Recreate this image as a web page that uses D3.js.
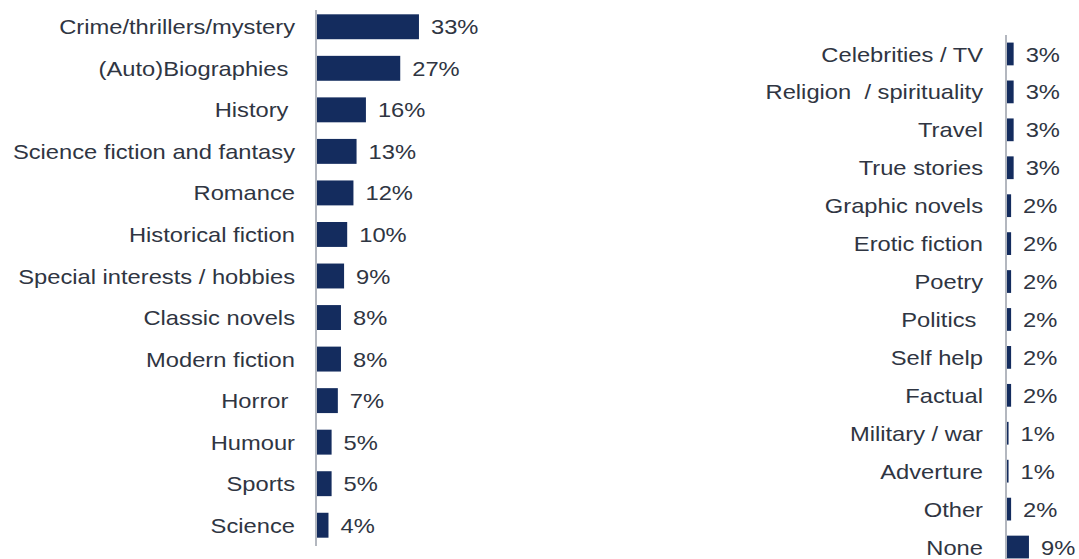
<!DOCTYPE html>
<html>
<head>
<meta charset="utf-8">
<script src="https://cdn.jsdelivr.net/npm/d3@7"></script>
<style>
  body { margin: 0; background: #fff; }
  svg { display: block; }
  text { font-family: Arial, "Liberation Sans", Helvetica, sans-serif; fill: #2f3542; white-space: pre; }
</style>
</head>
<body>
<svg width="1079" height="559"></svg>
<script>
const leftGenres = ["Crime/thrillers/mystery", "(Auto)Biographies ", "History ", "Science fiction and fantasy",
  "Romance", "Historical fiction", "Special interests / hobbies", "Classic novels", "Modern fiction",
  "Horror ", "Humour", "Sports", "Science"];
const leftValues = [33, 27, 16, 13, 12, 10, 9, 8, 8, 7, 5, 5, 4];

const rightGenres = ["Celebrities / TV", "Religion  / spirituality", "Travel", "True stories", "Graphic novels",
  "Erotic fiction", "Poetry", "Politics ", "Self help", "Factual", "Military / war", "Adverture", "Other", "None"];
const rightValues = [3, 3, 3, 3, 2, 2, 2, 2, 2, 2, 1, 1, 2, 9];

const BAR = "#142c5e";
const FONT = 21, STRETCH = 1.13;

const svg = d3.select("svg");

function panel(cats, vals, o) {
  const y = d3.scaleBand().domain(cats).range(o.yRange).paddingInner(0.4).paddingOuter(0.2);
  const x = d3.scaleLinear().domain([0, 100]).range([o.axisX, o.axisX + o.pxPer100]);
  const g = svg.append("g");

  g.append("line")
    .attr("x1", o.axisX).attr("x2", o.axisX)
    .attr("y1", o.axisTop).attr("y2", o.axisBottom)
    .attr("stroke", "#b3b7bf").attr("stroke-width", 2);

  g.selectAll("rect").data(vals).enter().append("rect")
    .attr("x", o.axisX + 1)
    .attr("y", (d, i) => y(cats[i]))
    .attr("width", d => x(d) - o.axisX - 1)
    .attr("height", y.bandwidth())
    .attr("fill", BAR);

  g.selectAll("text.cat").data(cats).enter().append("text")
    .attr("class", "cat")
    .attr("transform", d => `translate(${o.labelRight},${y(d) + y.bandwidth() / 2}) scale(${STRETCH},1)`)
    .attr("text-anchor", "end")
    .attr("dy", "0.36em")
    .style("font-size", FONT + "px")
    .text(d => d);

  g.selectAll("text.val").data(vals).enter().append("text")
    .attr("class", "val")
    .attr("transform", (d, i) => `translate(${x(d) + 12},${y(cats[i]) + y.bandwidth() / 2}) scale(${STRETCH},1)`)
    .attr("dy", "0.36em")
    .style("font-size", FONT + "px")
    .text(d => d + "%");
}

panel(leftGenres, leftValues, {
  yRange: [6, 546], axisX: 316, pxPer100: 312, axisTop: 10, axisBottom: 546, labelRight: 295
});
panel(rightGenres, rightValues, {
  yRange: [35, 566], axisX: 1006, pxPer100: 255, axisTop: 35, axisBottom: 559, labelRight: 983
});
</script>
</body>
</html>
